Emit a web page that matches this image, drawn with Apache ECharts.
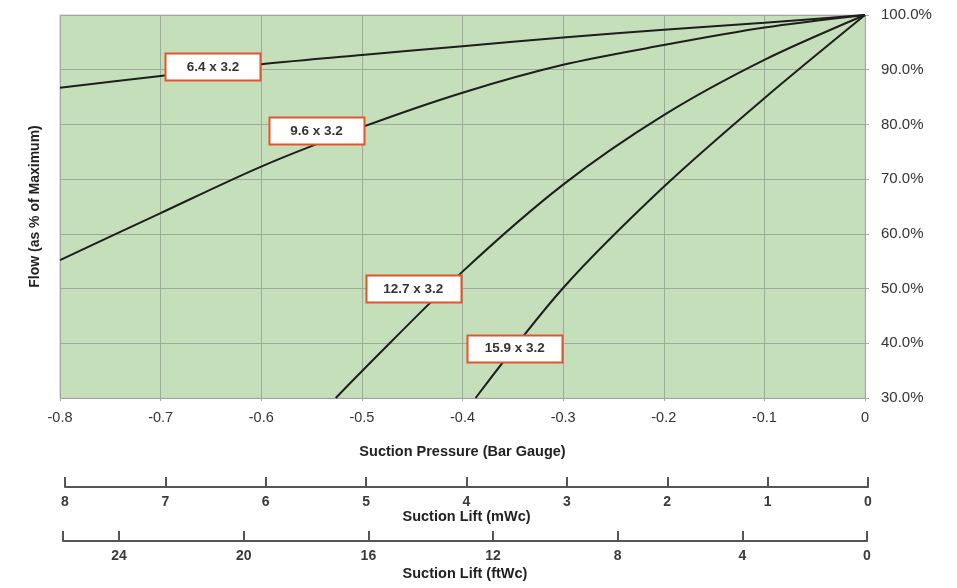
<!DOCTYPE html>
<html>
<head>
<meta charset="utf-8">
<script src="https://cdn.jsdelivr.net/npm/echarts@6/dist/echarts.min.js"></script>
<style>html,body{margin:0;padding:0;background:#fff}#c{width:957px;height:588px}</style>
</head>
<body>
<div id="c"></div>
<script>
// ---- data ----
const pressureX = [-0.8, -0.7, -0.6, -0.5, -0.4, -0.3, -0.2, -0.1, 0];
const flow64 = [86.7, 88.85, 91.0, 92.7, 94.3, 95.9, 97.3, 98.6, 100];
const flow96 = [55.2, 63.8, 72.3, 79.5, 85.8, 90.9, 94.5, 97.7, 100];
const x127 = [-0.526, -0.5, -0.4, -0.3, -0.2, -0.1, 0];
const flow127 = [30, 34.9, 53.1, 69.0, 81.7, 91.8, 100];
const x159 = [-0.387, -0.3, -0.2, -0.1, 0];
const flow159 = [30, 50.1, 68.6, 84.8, 100];
const curveNames = ['6.4 x 3.2', '9.6 x 3.2', '12.7 x 3.2', '15.9 x 3.2'];
const labelX = [-0.648, -0.545, -0.449, -0.348];
const labelY = [90.55, 78.8, 49.95, 39.1];
const mwcTicks = [0, 1, 2, 3, 4, 5, 6, 7, 8];
const ftwcTicks = [0, 4, 8, 12, 16, 20, 24];
const ftwcMax = 25.8;

const FONT = "'Liberation Sans', Arial, sans-serif";
const pair = (xs, ys) => xs.map((x, i) => [x, ys[i]]);

const lineStyle = { color: '#1e1e1e', width: 2 };
function curve(name, data) {
  return {
    name, type: 'line', xAxisIndex: 0, yAxisIndex: 0, data,
    smooth: 0.3, symbol: 'none', lineStyle, silent: true, z: 3
  };
}

const BOX_W = 95, BOX_H = 27;

const chart = echarts.init(document.getElementById('c'), null, { renderer: 'canvas' });
chart.setOption({
  animation: false,
  textStyle: { fontFamily: FONT },
  grid: [
    { left: 60, right: 92, top: 15, bottom: 190, show: true, backgroundColor: '#c6dfbb', borderColor: '#c4c4c4', borderWidth: 1 },
    { left: 65, right: 89, top: 477, height: 10 },
    { left: 63, right: 90, top: 531, height: 10 }
  ],
  xAxis: [
    {
      gridIndex: 0, type: 'value', min: -0.8, max: 0, interval: 0.1,
      axisLine: { show: false },
      axisTick: { show: true, length: 3, lineStyle: { color: '#a4ada1' } },
      axisLabel: { margin: 12, fontSize: 14.5, color: '#333', fontFamily: FONT,
        formatter: v => (Math.round(v * 10) / 10).toString() },
      splitLine: { show: true, lineStyle: { color: '#9ea99a', width: 1 } },
      name: 'Suction Pressure (Bar Gauge)', nameLocation: 'middle', nameGap: 46,
      nameTextStyle: { fontSize: 14.5, fontWeight: 'bold', color: '#222', fontFamily: FONT }
    },
    {
      gridIndex: 1, type: 'value', min: 0, max: 8, interval: 1, inverse: true,
      axisLine: { show: true, lineStyle: { color: '#555', width: 2 } },
      axisTick: { show: true, inside: true, length: 10, lineStyle: { color: '#555', width: 2 }, customValues: mwcTicks },
      axisLabel: { margin: 8, fontSize: 14, fontWeight: 'bold', color: '#3a3a3a', fontFamily: FONT, customValues: mwcTicks },
      splitLine: { show: false },
      name: 'Suction Lift (mWc)', nameLocation: 'middle', nameGap: 22,
      nameTextStyle: { fontSize: 14.5, fontWeight: 'bold', color: '#222', fontFamily: FONT }
    },
    {
      gridIndex: 2, type: 'value', min: 0, max: ftwcMax, interval: 4, inverse: true,
      axisLine: { show: true, lineStyle: { color: '#555', width: 2 } },
      axisTick: { show: true, inside: true, length: 10, lineStyle: { color: '#555', width: 2 }, customValues: ftwcTicks.concat([ftwcMax]) },
      axisLabel: { margin: 8, fontSize: 14, fontWeight: 'bold', color: '#3a3a3a', fontFamily: FONT, customValues: ftwcTicks },
      splitLine: { show: false },
      name: 'Suction Lift (ftWc)', nameLocation: 'middle', nameGap: 25,
      nameTextStyle: { fontSize: 14.5, fontWeight: 'bold', color: '#222', fontFamily: FONT }
    }
  ],
  yAxis: [
    {
      gridIndex: 0, type: 'value', position: 'right', min: 30, max: 100, interval: 10,
      axisLine: { show: false },
      axisTick: { show: true, length: 4, lineStyle: { color: '#a4ada1' } },
      axisLabel: { margin: 16, fontSize: 15, color: '#333', fontFamily: FONT, formatter: v => v.toFixed(1) + '%' },
      splitLine: { show: true, lineStyle: { color: '#9ea99a', width: 1 } }
    },
    {
      gridIndex: 0, type: 'value', position: 'left', min: 30, max: 100,
      axisLine: { show: false }, axisTick: { show: false }, axisLabel: { show: false }, splitLine: { show: false },
      name: 'Flow (as % of Maximum)', nameLocation: 'middle', nameGap: 18, nameRotate: 90,
      nameTextStyle: { fontSize: 14, fontWeight: 'bold', color: '#222', fontFamily: FONT }
    },
    { gridIndex: 1, type: 'value', show: false },
    { gridIndex: 2, type: 'value', show: false }
  ],
  series: [
    curve(curveNames[0], pair(pressureX, flow64)),
    curve(curveNames[1], pair(pressureX, flow96)),
    curve(curveNames[2], pair(x127, flow127)),
    curve(curveNames[3], pair(x159, flow159)),
    {
      name: 'labels', type: 'custom', xAxisIndex: 0, yAxisIndex: 0, z: 10, silent: true,
      data: labelX.map((x, i) => [x, labelY[i], i]),
      renderItem: function (params, api) {
        const c = api.coord([api.value(0), api.value(1)]);
        const i = api.value(2);
        return {
          type: 'group',
          children: [
            {
              type: 'rect',
              shape: { x: Math.round(c[0] - BOX_W / 2) + 0.5, y: Math.round(c[1] - BOX_H / 2) + 0.5, width: BOX_W, height: BOX_H },
              style: { fill: '#ffffff', stroke: '#e2552c', lineWidth: 2 }
            },
            {
              type: 'text',
              x: c[0], y: c[1] + 0.5,
              style: {
                text: curveNames[i], fill: '#333', font: 'bold 13.5px ' + FONT,
                textAlign: 'center', textVerticalAlign: 'middle'
              }
            }
          ]
        };
      }
    },
    { type: 'line', xAxisIndex: 1, yAxisIndex: 2, data: [], silent: true },
    { type: 'line', xAxisIndex: 2, yAxisIndex: 3, data: [], silent: true }
  ]
});
</script>
</body>
</html>
